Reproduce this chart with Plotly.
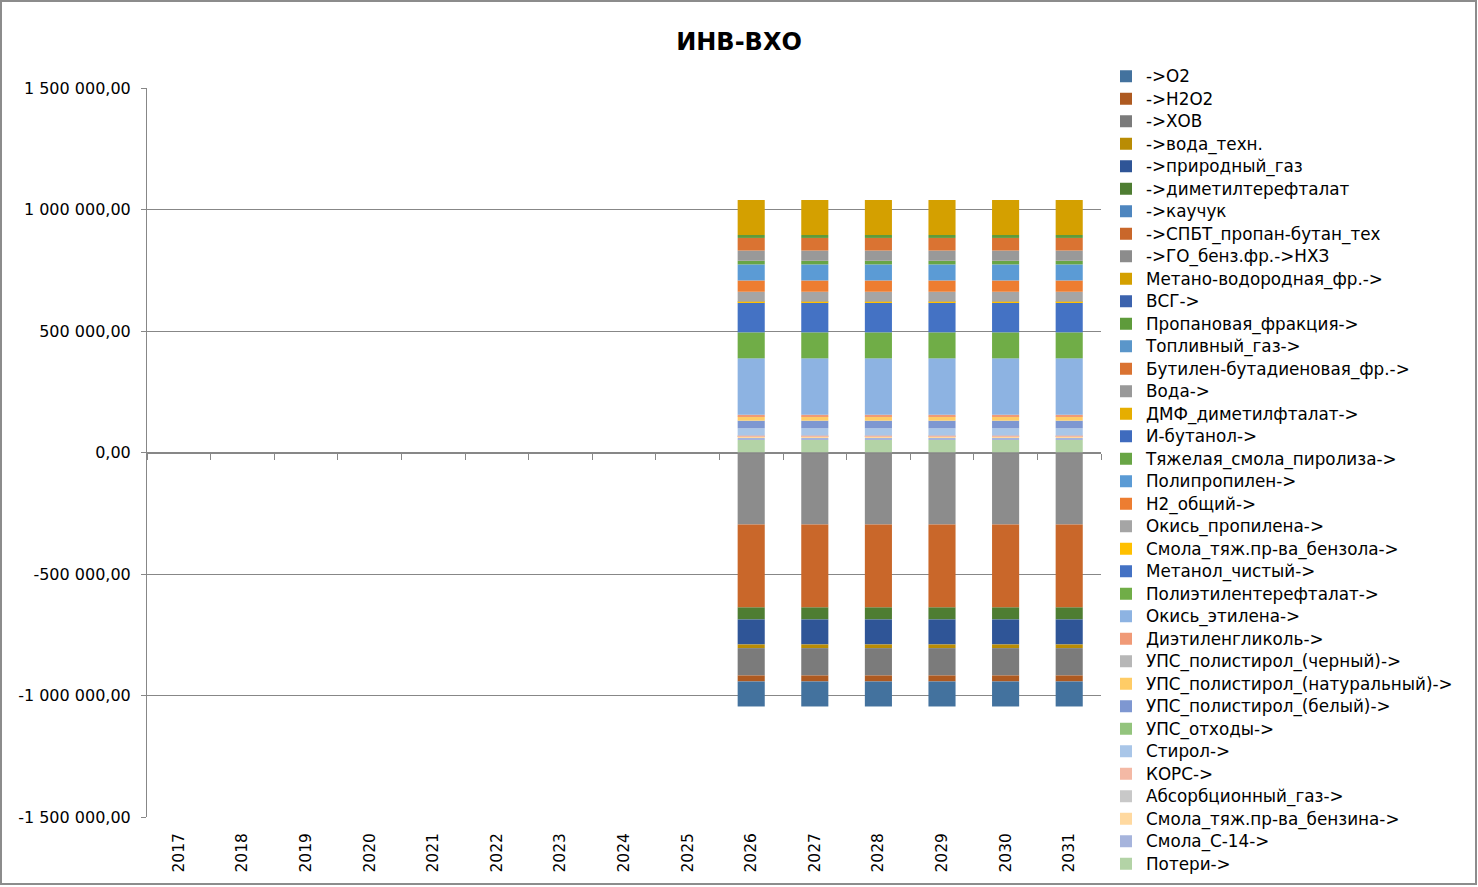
import plotly.graph_objects as go

years = [str(y) for y in range(2017, 2032)]
data_years = ["2026", "2027", "2028", "2029", "2030", "2031"]

# Legend order (top to bottom); traces are added in reverse order
names = [
    "->O2", "->H2O2", "->ХОВ", "->вода_техн.", "->природный_газ",
    "->диметилтерефталат", "->каучук", "->СПБТ_пропан-бутан_тех",
    "->ГО_бенз.фр.->НХЗ", "Метано-водородная_фр.->", "ВСГ->",
    "Пропановая_фракция->", "Топливный_газ->", "Бутилен-бутадиеновая_фр.->",
    "Вода->", "ДМФ_диметилфталат->", "И-бутанол->", "Тяжелая_смола_пиролиза->",
    "Полипропилен->", "Н2_общий->", "Окись_пропилена->",
    "Смола_тяж.пр-ва_бензола->", "Метанол_чистый->", "Полиэтилентерефталат->",
    "Окись_этилена->", "Диэтиленгликоль->", "УПС_полистирол_(черный)->",
    "УПС_полистирол_(натуральный)->", "УПС_полистирол_(белый)->",
    "УПС_отходы->", "Стирол->", "КОРС->", "Абсорбционный_газ->",
    "Смола_тяж.пр-ва_бензина->", "Смола_С-14->", "Потери->",
]

colors = [
    "#43729E", "#AE5A21", "#7B7B7B", "#B98C04", "#2F5597",
    "#4E7D32", "#4E86BF", "#C9672A", "#8C8C8C", "#D4A000", "#3C63AE",
    "#5E9B3B", "#5A96CA", "#DA7332", "#999999", "#E6AE00", "#3F6BBE",
    "#68A545", "#5B9BD5", "#ED7D31", "#A5A5A5", "#FFC000", "#4472C4",
    "#70AD47", "#8DB3E2", "#F09A77", "#B7B7B7", "#FFCC66", "#7E97D1",
    "#93C47D", "#A9C6E8", "#F4B9A5", "#C8C8C8", "#FFD9A0", "#A6B4DC",
    "#B3D3A6",
]

v_O2 = [-103000, -103000, -103000, -103000, -103000, -103000]
v_H2O2 = [-24700, -24700, -24700, -24700, -24700, -24700]
v_HOV = [-112500, -112500, -112500, -112500, -112500, -112500]
v_voda_tehn = [-15000, -15000, -15000, -15000, -15000, -15000]
v_prir_gaz = [-103000, -103000, -103000, -103000, -103000, -103000]
v_dmt = [-49500, -49500, -49500, -49500, -49500, -49500]
v_kauchuk = [0, 0, 0, 0, 0, 0]
v_spbt = [-341500, -341500, -341500, -341500, -341500, -341500]
v_go = [-296000, -296000, -296000, -296000, -296000, -296000]
v_metano = [144000, 144000, 144000, 144000, 144000, 144000]
v_vsg = [0, 0, 0, 0, 0, 0]
v_propan = [12000, 12000, 12000, 12000, 12000, 12000]
v_topl_gaz = [0, 0, 0, 0, 0, 0]
v_bbf = [52000, 52000, 52000, 52000, 52000, 52000]
v_voda = [42000, 42000, 42000, 42000, 42000, 42000]
v_dmf = [0, 0, 0, 0, 0, 0]
v_ibutanol = [0, 0, 0, 0, 0, 0]
v_tsp = [15000, 15000, 15000, 15000, 15000, 15000]
v_pp = [66000, 66000, 66000, 66000, 66000, 66000]
v_h2 = [46500, 46500, 46500, 46500, 46500, 46500]
v_op = [41000, 41000, 41000, 41000, 41000, 41000]
v_smola_benzol = [4000, 4000, 4000, 4000, 4000, 4000]
v_metanol = [122000, 122000, 122000, 122000, 122000, 122000]
v_pet = [107000, 107000, 107000, 107000, 107000, 107000]
v_oe = [232000, 232000, 232000, 232000, 232000, 232000]
v_deg = [8000, 8000, 8000, 8000, 8000, 8000]
v_ups_black = [0, 0, 0, 0, 0, 0]
v_ups_nat = [16500, 16500, 16500, 16500, 16500, 16500]
v_ups_white = [31500, 31500, 31500, 31500, 31500, 31500]
v_ups_waste = [0, 0, 0, 0, 0, 0]
v_styrene = [30000, 30000, 30000, 30000, 30000, 30000]
v_kors = [4500, 4500, 4500, 4500, 4500, 4500]
v_absorb = [1000, 1000, 1000, 1000, 1000, 1000]
v_smola_benzin = [4000, 4000, 4000, 4000, 4000, 4000]
v_smola_c14 = [8000, 8000, 8000, 8000, 8000, 8000]
v_poteri = [52000, 52000, 52000, 52000, 52000, 52000]

series = [
    v_O2, v_H2O2, v_HOV, v_voda_tehn, v_prir_gaz, v_dmt, v_kauchuk, v_spbt,
    v_go, v_metano, v_vsg, v_propan, v_topl_gaz, v_bbf, v_voda, v_dmf,
    v_ibutanol, v_tsp, v_pp, v_h2, v_op, v_smola_benzol, v_metanol, v_pet,
    v_oe, v_deg, v_ups_black, v_ups_nat, v_ups_white, v_ups_waste, v_styrene,
    v_kors, v_absorb, v_smola_benzin, v_smola_c14, v_poteri,
]

ytick_vals = [-1500000, -1000000, -500000, 0, 500000, 1000000, 1500000]
ytick_text = ["-1 500 000,00", "-1 000 000,00", "-500 000,00", "0,00",
              "500 000,00", "1 000 000,00", "1 500 000,00"]

FONT = "DejaVu Sans, sans-serif"
W, H = 1478, 887
ML, MR, MT, MB = 147, 377, 88, 70

fig = go.Figure()
for name, color, vals in reversed(list(zip(names, colors, series))):
    fig.add_trace(go.Bar(x=data_years, y=vals,
                         name="<span style='font-size:16.8px'>" + name + "</span>",
                         marker=dict(color=color, line=dict(width=0)),
                         xaxis="x", yaxis="y"))

# invisible trace to carry the zero-line category axis
fig.add_trace(go.Scatter(x=years, y=[None] * len(years), xaxis="x2", yaxis="y",
                         showlegend=False, hoverinfo="skip", mode="markers"))

pw = W - ML - MR
ph = H - MT - MB

fig.update_layout(
    width=W, height=H,
    margin=dict(l=ML, r=MR, t=MT, b=MB),
    paper_bgcolor="white", plot_bgcolor="white",
    barmode="relative", bargap=0.574,
    title=dict(text="<b>ИНВ-ВХО</b>", x=0.5, xref="container", xanchor="center",
               y=1 - 42 / H, yref="container", yanchor="middle",
               font=dict(family=FONT, size=24, color="black")),
    font=dict(family=FONT, size=15, color="black"),
    xaxis=dict(type="category", categoryorder="array", categoryarray=years,
               range=[-0.5, len(years) - 0.5], showgrid=False, showline=False,
               ticks="", tickangle=-90, tickfont=dict(size=15.5),
               ticklabelstandoff=12, fixedrange=True),
    xaxis2=dict(type="category", categoryorder="array", categoryarray=years,
                range=[-0.5, len(years) - 0.5], overlaying="x", anchor="free",
                position=0.5, side="bottom", showgrid=False, showline=True,
                linecolor="#878787", linewidth=1, ticks="outside",
                tickson="boundaries", ticklen=6, tickcolor="#878787",
                showticklabels=False),
    yaxis=dict(range=[-1500000, 1500000], tickvals=ytick_vals, ticktext=ytick_text,
               showgrid=True, gridcolor="#878787", gridwidth=1, zeroline=False,
               showline=True, linecolor="#878787", linewidth=1, ticks="outside",
               ticklen=5, tickcolor="#878787", tickfont=dict(size=16),
               ticklabelstandoff=7),
    legend=dict(x=(1106 - ML) / pw, xanchor="left", y=(H - MB - 60) / ph,
                yanchor="top", traceorder="reversed", bgcolor="rgba(0,0,0,0)",
                font=dict(family=FONT, size=15), itemwidth=30, maxheight=880),
    showlegend=True,
)

# chart-area border
fig.add_shape(type="rect", xref="paper", yref="paper",
              x0=(1 - ML) / pw, x1=(W - 2 - ML) / pw,
              y0=(H - MB - (H - 3)) / ph, y1=(H - MB - 1) / ph,
              line=dict(color="#8C8C8C", width=2), fillcolor="rgba(0,0,0,0)",
              layer="below")

fig.write_html("out.html", config={"displayModeBar": False},
               post_script="document.body.style.margin='0';"
                           "document.body.style.overflow='hidden';")
